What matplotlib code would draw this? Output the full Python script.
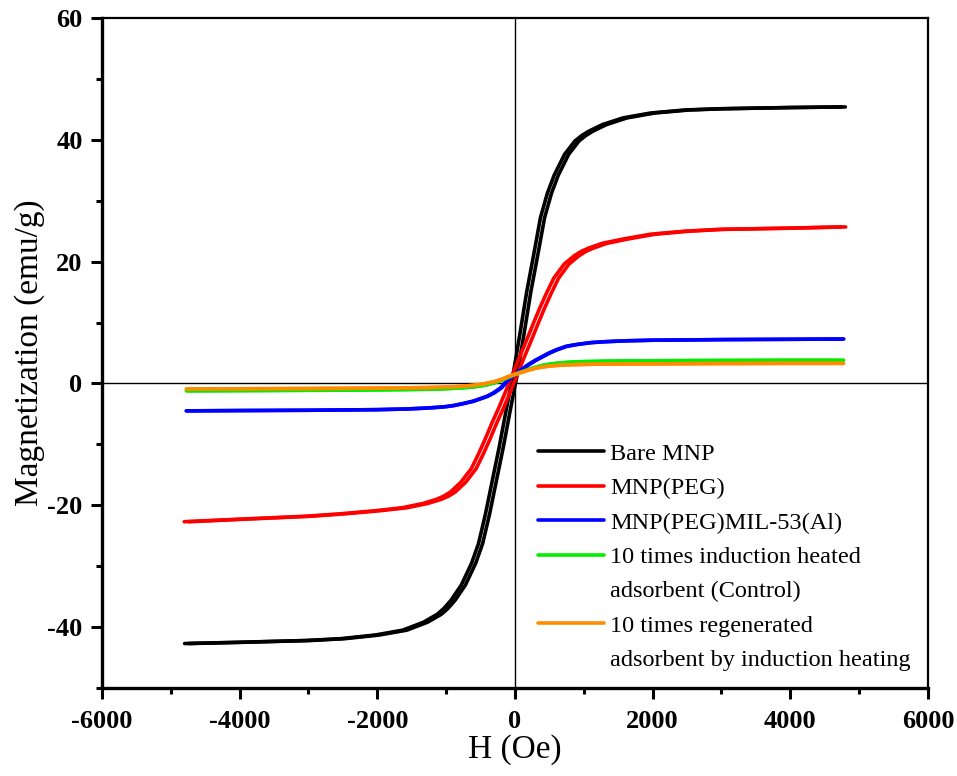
import numpy as np
import matplotlib
matplotlib.use("Agg")
import matplotlib.pyplot as plt
from matplotlib.lines import Line2D
from matplotlib.ticker import MultipleLocator

plt.rcParams['font.family'] = ['Liberation Serif', 'DejaVu Serif']
plt.rcParams['axes.unicode_minus'] = False

H = [-4770, -4000, -3000, -2500, -2000, -1600, -1300, -1100, -1000, -900, -750, -600,
     -500, -400, -300, -200, -100, 0, 100, 200, 300, 400, 500, 600, 750, 900, 1000,
     1100, 1300, 1600, 2000, 2500, 3000, 4000, 4770]

# magnetization (emu/g), middle of each loop
M_bare = [-42.7, -42.5, -42.2, -41.9, -41.3, -40.5, -39.2, -37.9, -36.9, -35.6, -33.1, -29.5,
          -26.3, -21.5, -16.0, -10.5, -4.5, 1.3, 8.0, 15.0, 21.0, 27.2, 31.2, 34.2, 37.6, 39.8, 40.7,
          41.4, 42.5, 43.6, 44.4, 44.9, 45.1, 45.3, 45.4]
M_peg = [-22.7, -22.3, -21.8, -21.4, -20.9, -20.4, -19.7, -19.0, -18.5, -17.8, -16.2, -14.0,
         -11.7, -9.2, -6.5, -4.0, -1.3, 1.5, 4.3, 7.0, 9.8, 12.5, 15.0, 17.3, 19.6, 21.0, 21.7,
         22.2, 23.0, 23.7, 24.5, 25.0, 25.3, 25.5, 25.7]
M_mil = [-4.5, -4.45, -4.4, -4.35, -4.3, -4.2, -4.05, -3.9, -3.8, -3.65, -3.3, -2.9,
         -2.5, -2.1, -1.5, -0.7, 0.6, 1.5, 2.3, 3.1, 3.8, 4.4, 5.0, 5.5, 6.1, 6.4, 6.55,
         6.7, 6.85, 7.0, 7.1, 7.15, 7.2, 7.25, 7.3]
M_ctrl = [-1.2, -1.17, -1.12, -1.1, -1.05, -1.0, -0.95, -0.9, -0.85, -0.8, -0.7, -0.55,
          -0.4, -0.2, 0.1, 0.5, 1.0, 1.5, 1.9, 2.3, 2.65, 2.95, 3.15, 3.3, 3.45, 3.55, 3.58,
          3.6, 3.65, 3.7, 3.72, 3.75, 3.77, 3.8, 3.8]
M_regen = [-0.9, -0.87, -0.83, -0.8, -0.76, -0.72, -0.68, -0.62, -0.59, -0.55, -0.45, -0.3,
           -0.15, 0.05, 0.3, 0.65, 1.1, 1.5, 1.85, 2.2, 2.5, 2.7, 2.85, 2.95, 3.05, 3.1, 3.13,
           3.15, 3.18, 3.2, 3.22, 3.25, 3.27, 3.3, 3.3]

# half width of each loop (Oe), read from the gap between the two branches
Hc = [30, 35, 8, 5, 5]

labels = ['Bare MNP', 'MNP(PEG)', 'MNP(PEG)MIL-53(Al)',
          ['10 times induction heated', 'adsorbent (Control)'],
          ['10 times regenerated', 'adsorbent by induction heating']]
colors = ['black', '#ff0000', '#0000ff', '#00ee00', '#ff8c00']
series = [M_bare, M_peg, M_mil, M_ctrl, M_regen]

fig = plt.figure(figsize=(9.57, 7.76), dpi=100)
ax = fig.add_axes([0.1066, 0.1134, 0.863, 0.8634])

Hs = np.array(H, dtype=float)
handles, names = [], []
for M, c, lab, hc in zip(series, colors, labels, Hc):
    # descending and ascending branches
    line, = ax.plot(Hs - hc, M, color=c, lw=2.6, solid_capstyle='round')
    ax.plot(Hs + hc, M, color=c, lw=2.6, solid_capstyle='round')
    if isinstance(lab, list):
        handles += [line, Line2D([], [], color='none')]
        names += lab
    else:
        handles.append(line)
        names.append(lab)

ax.axhline(0, color='black', lw=1.0, zorder=0)
ax.axvline(0, color='black', lw=1.0, zorder=0)

ax.set_xlim(-6000, 6000)
ax.set_ylim(-50, 60)
ax.xaxis.set_major_locator(MultipleLocator(2000))
ax.xaxis.set_minor_locator(MultipleLocator(1000))
ax.yaxis.set_major_locator(MultipleLocator(20))
ax.yaxis.set_minor_locator(MultipleLocator(10))
ax.tick_params(which='both', direction='out', width=2.2, top=False, right=False)
ax.tick_params(which='major', length=8, labelsize=19, pad=6)
ax.tick_params(axis='x', which='major', pad=8)
ax.tick_params(which='minor', length=4.5)
for t in ax.get_xticklabels() + ax.get_yticklabels():
    t.set_fontweight('bold')

ax.spines['left'].set_linewidth(2.4)
ax.spines['bottom'].set_linewidth(2.4)
ax.spines['top'].set_linewidth(1.6)
ax.spines['right'].set_linewidth(1.6)

ax.set_xlabel('H (Oe)', fontsize=24, labelpad=1)
ax.set_ylabel('Magnetization (emu/g)', fontsize=24, labelpad=2)

leg = ax.legend(handles, names, loc='upper left', bbox_to_anchor=(0.528, 0.366),
                frameon=False, fontsize=17.5, handlelength=2.7, handletextpad=0.25,
                labelspacing=0.51, borderpad=0, borderaxespad=0)

fig.savefig('out.png', dpi=100)
